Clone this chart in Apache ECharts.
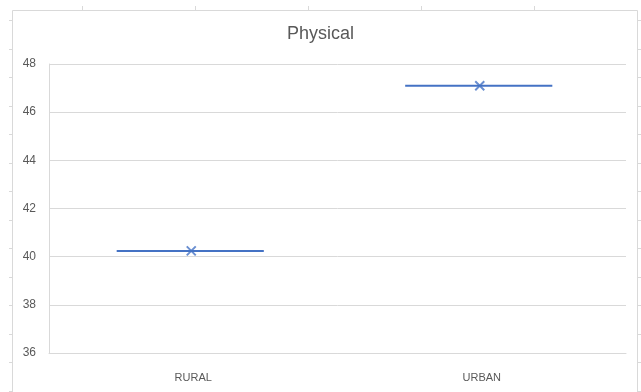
<!DOCTYPE html>
<html><head><meta charset="utf-8">
<script src="https://cdn.jsdelivr.net/npm/echarts@6/dist/echarts.min.js"></script>
<style>html,body{margin:0;padding:0;background:#fff}#c{width:641px;height:392px}</style>
</head><body><div id="c"></div>
<script>
const categories = ['RURAL', 'URBAN'];
const medianValues = [40.24, 47.1];
const meanValues = [40.24, 47.1];
const yTicks = [36, 38, 40, 42, 44, 46, 48];

const chart = echarts.init(document.getElementById('c'), null, {renderer: 'canvas'});
const gray = '#d9d9d9';
const txt = '#595959';
const font = 'Liberation Sans, Arial, sans-serif';

const frameGraphics = [
  {type: 'rect', shape: {x: 12.5, y: 10.5, width: 625, height: 400}, style: {fill: 'none', stroke: gray, lineWidth: 1}, silent: true, z: -1}
];
for (let y = 20; y < 392; y += 28.5) {
  frameGraphics.push({type: 'line', shape: {x1: 9, y1: Math.round(y) + 0.5, x2: 12, y2: Math.round(y) + 0.5}, style: {stroke: gray}, silent: true});
  frameGraphics.push({type: 'line', shape: {x1: 637, y1: Math.round(y) + 0.5, x2: 641, y2: Math.round(y) + 0.5}, style: {stroke: gray}, silent: true});
}
for (let x = 82; x < 640; x += 113) {
  frameGraphics.push({type: 'line', shape: {x1: Math.round(x) + 0.5, y1: 6, x2: Math.round(x) + 0.5, y2: 10}, style: {stroke: gray}, silent: true});
}

const xPath = 'path://M0,0L10,10M10,0L0,10';

chart.setOption({
  animation: false,
  backgroundColor: '#fff',
  title: {text: 'Physical', left: 'center', top: 20, textStyle: {fontFamily: font, fontSize: 18, fontWeight: 'normal', color: txt}},
  grid: {left: 49, right: 15, top: 64, bottom: 39},
  graphic: frameGraphics,
  xAxis: {
    type: 'category', data: categories,
    axisLine: {show: true, lineStyle: {color: gray}},
    axisTick: {show: false},
    axisLabel: {color: txt, fontFamily: font, fontSize: 11, margin: 19},
    splitLine: {show: false}
  },
  yAxis: {
    type: 'value', min: yTicks[0], max: yTicks[yTicks.length - 1], interval: 2,
    axisLine: {show: true, lineStyle: {color: gray}},
    axisTick: {show: false},
    axisLabel: {color: txt, fontFamily: font, fontSize: 12, margin: 13},
    splitLine: {show: true, lineStyle: {color: gray, width: 1}}
  },
  series: [
    {
      type: 'custom',
      data: medianValues.map((v, i) => [i, v]),
      renderItem: function (params, api) {
        const c = api.coord([api.value(0), api.value(1)]);
        const band = api.size([1, 0])[0];
        const half = band * 0.255;
        return {
          type: 'line',
          shape: {x1: c[0] - half - 3, y1: c[1], x2: c[0] + half - 3, y2: c[1]},
          style: {stroke: '#4472C4', lineWidth: 2}
        };
      },
      z: 3
    },
    {
      type: 'scatter',
      data: meanValues.map((v, i) => [i, v]),
      symbol: xPath,
      symbolSize: 9,
      symbolOffset: [-2, 0],
      itemStyle: {color: 'none', borderColor: '#4472C4', borderWidth: 2},
      z: 4
    }
  ]
});
</script></body></html>
